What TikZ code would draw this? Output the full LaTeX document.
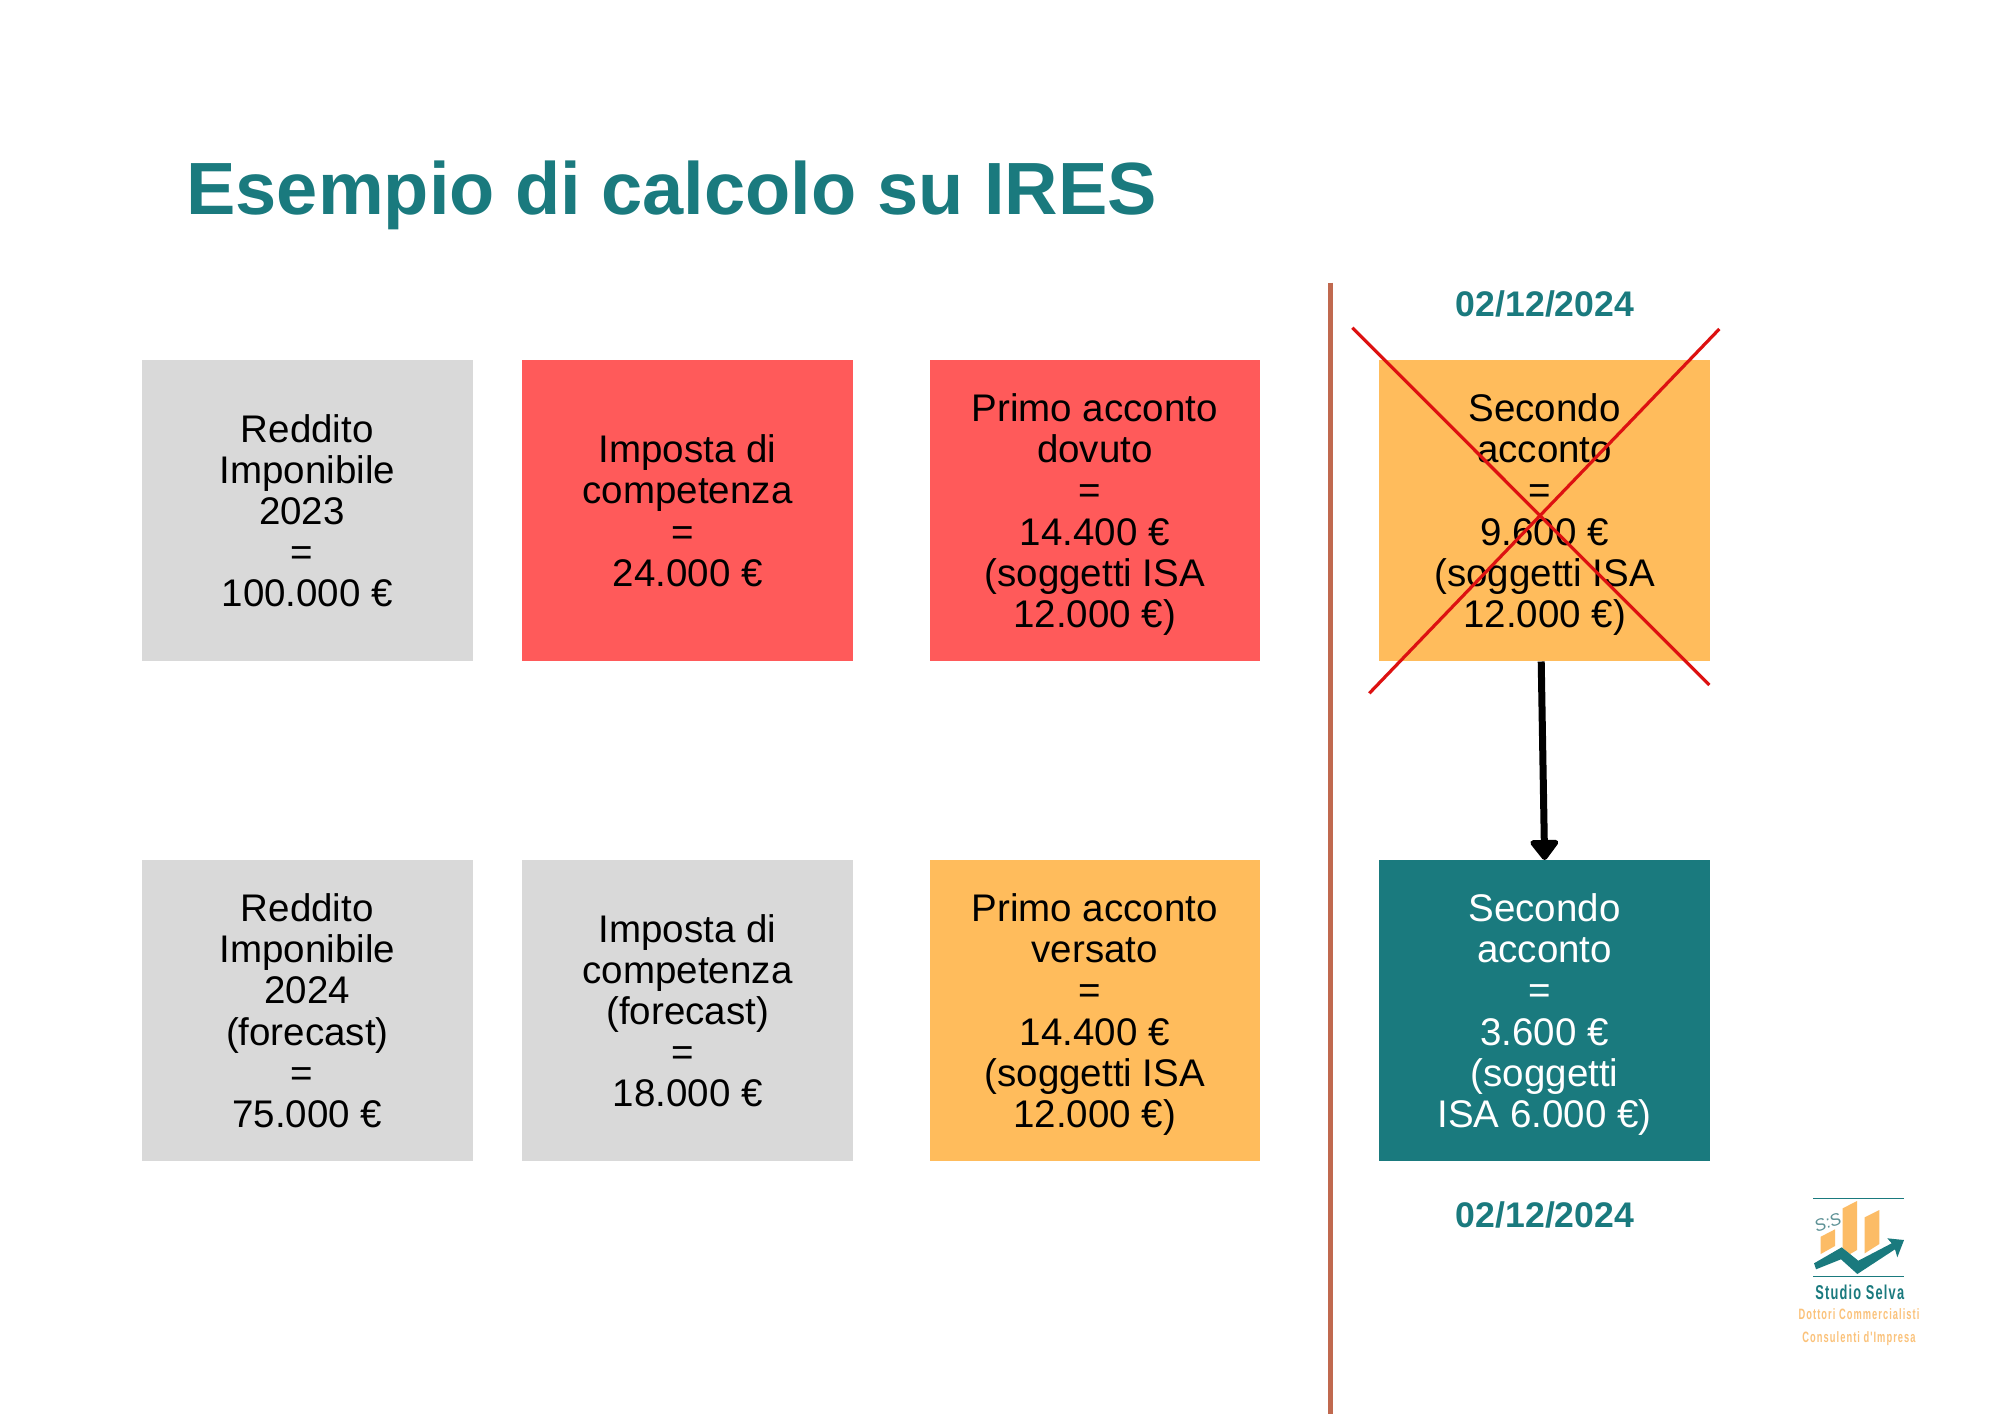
\documentclass[tikz,border=0pt]{standalone}
\usepackage{fontspec}
\usetikzlibrary{arrows.meta}
\setmainfont{Liberation Sans}
\newfontfamily\logofontA[FakeStretch=0.64,LetterSpace=6]{Liberation Sans}
\newfontfamily\logofontB[FakeStretch=0.62,LetterSpace=7]{Liberation Sans}
\definecolor{tealc}{HTML}{1A7A7E}
\definecolor{grayb}{HTML}{D9D9D9}
\definecolor{redb}{HTML}{FF5A5A}
\definecolor{orangeb}{HTML}{FFBC5C}
\definecolor{rust}{HTML}{C0694F}
\definecolor{crossred}{HTML}{DD1111}
\definecolor{logoor}{HTML}{FBC27A}
\definecolor{logobar}{HTML}{FCBC66}
\definecolor{logoss}{HTML}{5E9296}
\tikzset{
  box/.style={minimum width=165.2pt,minimum height=150.35pt,inner sep=0pt,align=center,font=\fontsize{19.25}{20.55}\selectfont,anchor=north west},
  datelab/.style={text=tealc,anchor=base,inner sep=0pt,font=\fontsize{17.8}{20}\selectfont\bfseries},
  logotxt/.style={inner sep=0pt,anchor=base},
}
\newcommand{\eqs}{=\kern0.278em}
\newcommand{\lowB}{\rule{0pt}{17.7pt}}
\begin{document}
\begin{tikzpicture}[x=0.5pt,y=-0.5pt]
\useasboundingbox (0,0) rectangle (2000,1414);
\fill[white] (0,0) rectangle (2000,1414);
\node[anchor=base west,inner sep=0pt,text=tealc,font=\fontsize{37}{44}\selectfont\bfseries] (title) at (186,214) {Esempio di calcolo su IRES};
\node[box,fill=grayb] (a1) at (141.7,360) {Reddito\\Imponibile\\2023\kern0.278em\\\eqs\\100.000 €};
\node[box,fill=redb] (b1) at (522,360) {Imposta di\\competenza\\\eqs\\24.000 €};
\node[box,fill=redb] (c1) at (929.2,360) {\lowB Primo acconto\\dovuto\\\eqs\\14.400 €\\(soggetti ISA\\12.000 €)};
\node[box,fill=orangeb] (d1) at (1379,360) {\lowB Secondo\\acconto\\\eqs\\9.600 €\\(soggetti ISA\\12.000 €)};
\node[box,fill=grayb] (a2) at (141.7,860) {Reddito\\Imponibile\\2024\\(forecast)\\\eqs\\75.000 €};
\node[box,fill=grayb] (b2) at (522,860) {Imposta di\\competenza\\(forecast)\\\eqs\\18.000 €};
\node[box,fill=orangeb] (c2) at (929.2,860) {\lowB Primo acconto\\versato\\\eqs\\14.400 €\\(soggetti ISA\\12.000 €)};
\node[box,fill=tealc,text=white] (d2) at (1379,860) {\lowB Secondo\\acconto\\\eqs\\3.600 €\\(soggetti\\ISA 6.000 €)};
\node[datelab] (dt1) at (1545,316) {02/12/2024};
\node[datelab] (dt2) at (1545,1227) {02/12/2024};
\coordinate (vt) at (1330.3,282.7);
\coordinate (vb) at (1330.3,1414);
\draw[rust,line width=2.4pt] (vt) -- (vb);
\coordinate (xa) at (1352.3,327.7);
\coordinate (xb) at (1709.3,685);
\coordinate (xc) at (1719.3,329);
\coordinate (xd) at (1369.3,693.3);
\draw[crossred,line width=1.6pt] (xa) -- (xb);
\draw[crossred,line width=1.6pt] (xc) -- (xd);
\draw[line width=3.5pt,-{Triangle[width=16pt,length=11pt,round]}] ([xshift=-1.7pt]d1.south) -- (d2.north);
% logo
\draw[tealc,line width=0.6pt] (1813.3,1198.3) -- (1904.3,1198.3);
\draw[tealc,line width=0.6pt] (1813.3,1276.7) -- (1904.3,1276.7);
\fill[logobar] (1820.7,1236.7) -- (1835,1229.3) -- (1835,1246) -- (1820.7,1254) -- cycle;
\fill[logobar] (1842.7,1208.3) -- (1857,1201) -- (1857,1250) -- (1850,1254) -- (1842.7,1248) -- cycle;
\fill[logobar] (1864.7,1217.3) -- (1879.3,1210) -- (1879.3,1244) -- (1864.7,1253.3) -- cycle;
\fill[tealc] (1814,1263.3) -- (1841.7,1247.3) -- (1858.3,1260.7) -- (1891.7,1243.3) -- (1887.3,1238.3) -- (1904,1240) -- (1897.3,1257.3) -- (1895,1249.3) -- (1857.3,1274) -- (1841,1259.3) -- (1816,1269.3) -- cycle;
\node[inner sep=0pt,text=logoss,rotate=20,font=\fontsize{8.5}{9}\selectfont\itshape] (ss) at (1827.7,1222.3) {S:S};
\node[logotxt,text=tealc,font=\logofontA\fontsize{10}{11}\selectfont\bfseries] (ls) at (1859.7,1299.3) {Studio Selva};
\node[logotxt,text=logoor,font=\logofontB\fontsize{7.5}{8}\selectfont\bfseries] (ld) at (1859,1319) {Dottori Commercialisti};
\node[logotxt,text=logoor,font=\logofontB\fontsize{7.5}{8}\selectfont\bfseries] (lc) at (1859,1342.3) {Consulenti d'Impresa};
\end{tikzpicture}
\end{document}
